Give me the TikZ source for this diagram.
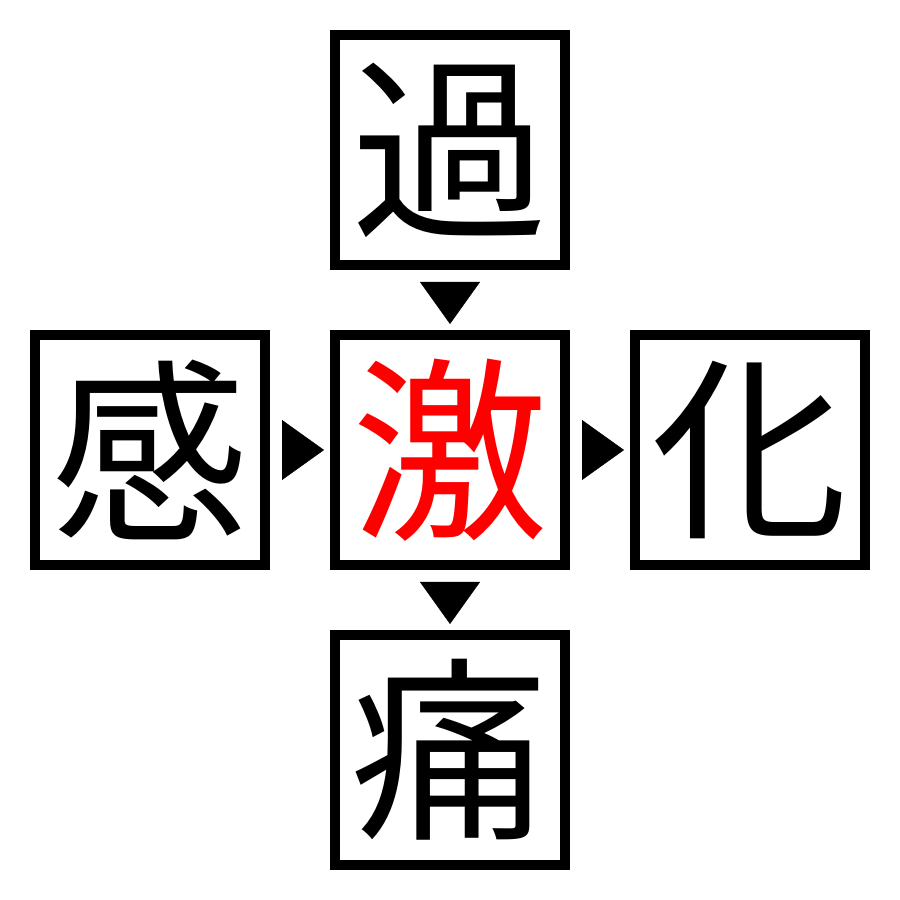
\documentclass[tikz,border=0pt]{standalone}
\usepackage{fontspec}
\newfontfamily\cjk{Noto Sans CJK JP}
\usetikzlibrary{positioning,arrows.meta}
\tikzset{
  kanji/.style={draw, line width=0.1cm, minimum size=2.3cm, inner sep=0pt,
    font=\cjk\fontsize{56}{56}\selectfont},
  flow/.style={line width=0.1pt, -{Triangle[length=0.42cm,width=0.6cm]},
    shorten <=0.12cm, shorten >=0.06cm}
}
\begin{document}
\begin{tikzpicture}
                \useasboundingbox (0,0) rectangle (9,9);
                
                % Drawing centre box
                \node [kanji, text=red] (mid) at (4.5,4.5) {激};%
                
                % Drawing outer boxes
                \node [kanji, above=0.6cm of mid] (top) {過};%
                \node [kanji, left=0.6cm of mid] (left) {感};%
                \node [kanji, right=0.6cm of mid] (right) {化};%
                \node [kanji, below=0.6cm of mid] (bottom) {痛};%
                
                % Drawing triangles
                \draw [flow] (top.south) -- (mid.north);%
                \draw [flow] (left.east) -- (mid.west);%
                \draw [flow] (mid.east) -- (right.west);%
                \draw [flow] (mid.south) -- (bottom.north);%
\end{tikzpicture}
\end{document}
